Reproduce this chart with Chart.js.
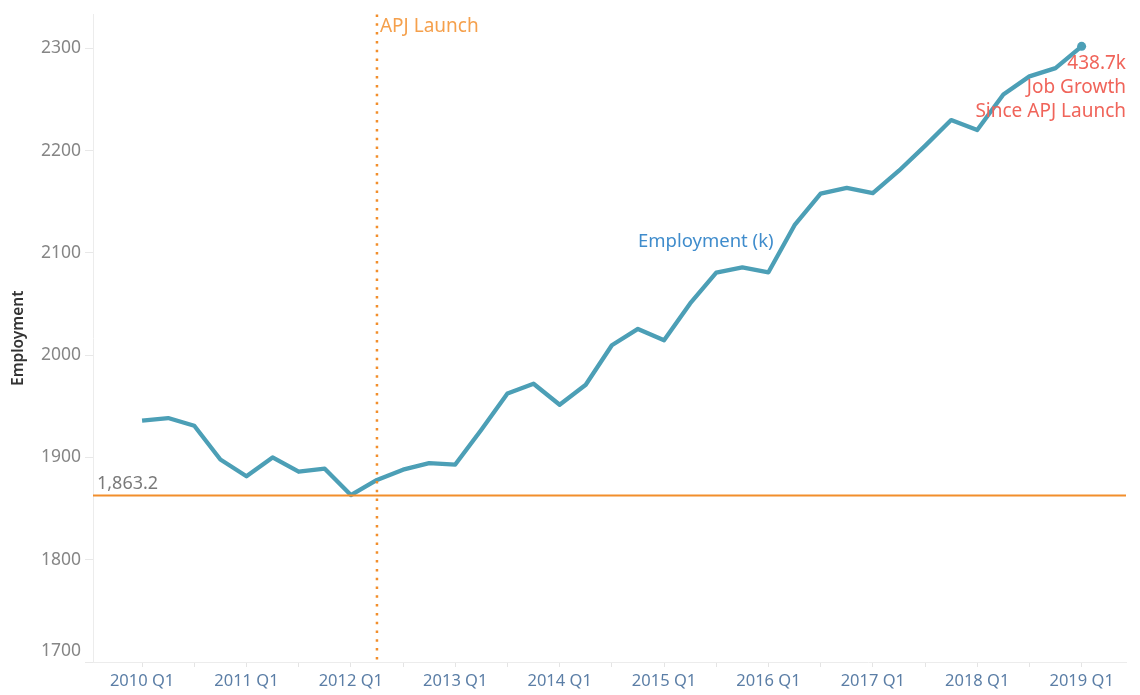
<!DOCTYPE html>
<html>
<head>
<meta charset="utf-8">
<script src="https://cdn.jsdelivr.net/npm/chart.js@4.4.1/dist/chart.umd.min.js"></script>
<style>
  body { margin: 0; background: #fff; }
  canvas { display: block; }
</style>
</head>
<body>
<canvas id="empChart" width="1140" height="695"></canvas>
<script>
// quarters 2010 Q1 .. 2019 Q1
const quarters = [];
for (let y = 2010; y <= 2019; y++) {
  for (let q = 1; q <= 4; q++) {
    if (y === 2019 && q > 1) break;
    quarters.push(y + ' Q' + q);
  }
}

// employment, thousands
const employment = [
  1936, 1938.5, 1931, 1898, 1881.6, 1900, 1886, 1889,
  1863.2, 1878, 1888, 1894.5, 1893, 1927, 1962.5, 1972,
  1951.5, 1971, 2009.7, 2025.6, 2014.6, 2050.5, 2080.6, 2085.7,
  2081, 2127, 2157.8, 2163.5, 2158.3, 2180.3, 2204.6, 2229.8,
  2220.1, 2254.7, 2272.5, 2280.6, 2301.9
];

const yTicks = [1700, 1800, 1900, 2000, 2100, 2200, 2300];
const launchQuarter = '2012 Q2';
const baseline = Math.min(...employment);
const growth = employment[employment.length - 1] - baseline;

const FONT = '"Noto Sans", sans-serif';
const lineColor = '#4c9fb6';
const orange = '#f28e2b';

const launchIdx = quarters.indexOf(launchQuarter);

const refLines = {
  id: 'refLines',
  afterDatasetsDraw(chart) {
    const { ctx, chartArea, scales } = chart;
    const x = scales.x, y = scales.y;
    ctx.save();

    // baseline (min before growth)
    const by = Math.round(y.getPixelForValue(baseline)) + 0.5;
    ctx.strokeStyle = orange;
    ctx.lineWidth = 2;
    ctx.beginPath();
    ctx.moveTo(chartArea.left, by);
    ctx.lineTo(chartArea.right, by);
    ctx.stroke();

    ctx.font = '18px ' + FONT;
    ctx.fillStyle = '#7a7a7a';
    ctx.textAlign = 'left';
    ctx.textBaseline = 'bottom';
    ctx.fillText(baseline.toLocaleString('en-US', { minimumFractionDigits: 1 }), chartArea.left + 4, by - 3);

    // launch marker
    const lx = x.getPixelForValue(launchIdx);
    ctx.strokeStyle = orange;
    ctx.lineWidth = 2.5;
    ctx.setLineDash([2.5, 6.3]);
    ctx.beginPath();
    ctx.moveTo(lx, chartArea.top);
    ctx.lineTo(lx, chartArea.bottom);
    ctx.stroke();
    ctx.setLineDash([]);

    ctx.font = '19px ' + FONT;
    ctx.fillStyle = '#f5a04c';
    ctx.textBaseline = 'middle';
    ctx.fillText('APJ Launch', lx + 3, chartArea.top + 12);

    // series label
    ctx.font = '18.5px ' + FONT;
    ctx.fillStyle = '#3f8ccc';
    ctx.fillText('Employment (k)', x.getPixelForValue(19), y.getPixelForValue(2111));

    // growth annotation
    ctx.fillStyle = '#f0645a';
    ctx.textAlign = 'right';
    const rx = chartArea.right;
    ctx.font = '19px ' + FONT;
    ctx.fillText(growth.toFixed(1) + 'k', rx, 64);
    ctx.fillText('Job Growth', rx, 88);
    ctx.fillText('Since APJ Launch', rx, 112);

    ctx.restore();
  }
};

new Chart(document.getElementById('empChart'), {
  type: 'line',
  data: {
    datasets: [{
      label: 'Employment (k)',
      data: employment.map((v, i) => ({ x: i, y: v })),
      borderColor: lineColor,
      backgroundColor: lineColor,
      borderWidth: 4.3,
      tension: 0,
      borderJoinStyle: 'round',
      pointRadius: ctx => ctx.dataIndex === employment.length - 1 ? 4.5 : 0,
      pointHoverRadius: 0,
      pointBorderWidth: 0
    }]
  },
  options: {
    responsive: false,
    animation: false,
    layout: { padding: { top: 11, right: 14, left: 0, bottom: 0 } },
    plugins: {
      legend: { display: false },
      tooltip: { enabled: false }
    },
    scales: {
      x: {
        type: 'linear',
        min: -1.88,
        max: 37.7,
        afterFit: s => { s.height = 33; },
        border: { color: '#ececec', width: 1 },
        grid: {
          drawOnChartArea: false,
          tickLength: 5,
          color: c => (Number.isInteger(c.tick.value) && c.tick.value % 2 === 0) ? '#e4e4e4' : 'rgba(0,0,0,0)'
        },
        ticks: {
          stepSize: 1,
          autoSkip: false,
          maxRotation: 0,
          padding: 4,
          color: '#5b7ea6',
          font: { family: FONT, size: 16.5 },
          callback: v => (Number.isInteger(v) && v % 4 === 0 && quarters[v]) ? quarters[v] : ''
        }
      },
      y: {
        min: yTicks[0],
        max: 2333,
        afterFit: s => { s.width = 93; },
        border: { color: '#ececec', width: 1 },
        grid: {
          drawOnChartArea: false,
          tickLength: 8,
          color: c => yTicks.includes(c.tick.value) ? '#e8e8e8' : 'rgba(0,0,0,0)'
        },
        ticks: {
          stepSize: 100,
          padding: 4,
          color: '#868686',
          font: { family: FONT, size: 17.5 },
          // lowest label sits a bit above its tick, as in the original
          callback: v => v === yTicks[0] ? [String(v), ''] : (yTicks.includes(v) ? String(v) : '')
        },
        title: {
          display: true,
          text: 'Employment',
          color: '#333',
          padding: { top: 9, bottom: 0 },
          font: { family: FONT, size: 15.5, weight: '600' }
        }
      }
    }
  },
  plugins: [refLines]
});
</script>
</body>
</html>
